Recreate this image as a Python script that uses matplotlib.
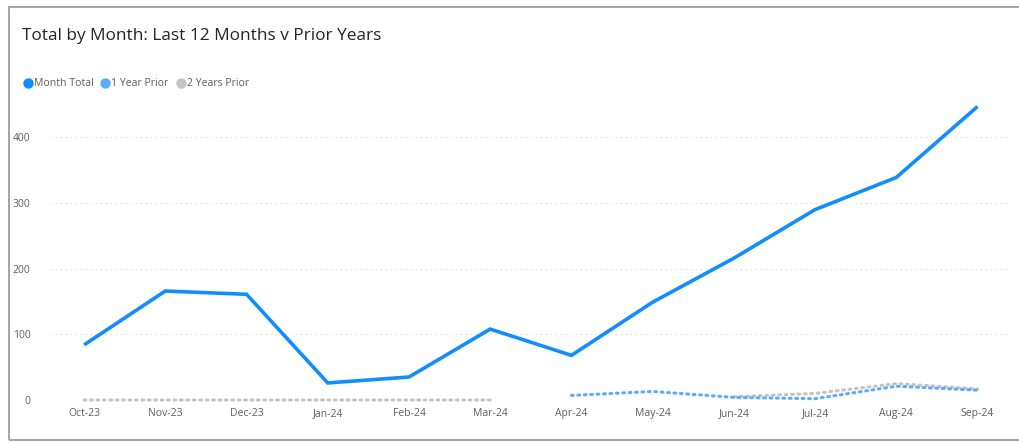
import matplotlib
matplotlib.use("Agg")
import matplotlib.pyplot as plt
from matplotlib.patches import Rectangle
from matplotlib.lines import Line2D
import numpy as np

plt.rcParams['font.family'] = ['Open Sans', 'DejaVu Sans']

months = ["Oct-23", "Nov-23", "Dec-23", "Jan-24", "Feb-24", "Mar-24",
          "Apr-24", "May-24", "Jun-24", "Jul-24", "Aug-24", "Sep-24"]
month_total = [84, 166, 161, 26, 35, 108, 68, 149, 216, 290, 339, 447]
one_year_prior = [np.nan, np.nan, np.nan, np.nan, np.nan, np.nan, 7, 13, 4, 2, 21, 15]
two_years_prior = [0, 0, 0, 0, 0, 0, np.nan, np.nan, 5, 10, 25, 17]
yticks = [0, 100, 200, 300, 400]

c_total = "#118DFF"
c_1y = "#5AADF8"
c_2y = "#C4C4C4"

fig = plt.figure(figsize=(10.2, 4.43), dpi=100)
ax = fig.add_axes([50/1020, 1-400/443, 960/1020, 302/443])

x = np.arange(len(months))
ax.plot(x, two_years_prior, color=c_2y, lw=2.2, linestyle=(0, (0.6, 1.5)),
        dash_capstyle='round', solid_capstyle='round', zorder=2, clip_on=False)
ax.plot(x, one_year_prior, color=c_1y, lw=2.2, linestyle=(0, (0.6, 1.5)),
        dash_capstyle='round', solid_capstyle='round', zorder=3, clip_on=False)
ax.plot(x, month_total, color=c_total, lw=2.6, solid_joinstyle='miter',
        solid_capstyle='butt', zorder=4, clip_on=False)

ax.set_xlim(-0.42, 11.4)
ax.set_ylim(0, 460)
ax.set_xticks(x)
ax.set_xticklabels(months)
ax.set_yticks(yticks)
ax.set_yticklabels([str(v) for v in yticks])
ax.tick_params(axis='both', length=0, labelsize=7.5, colors="#605E5C")
ax.tick_params(axis='x', pad=6)
ax.tick_params(axis='y', pad=14)
for s in ax.spines.values():
    s.set_visible(False)
ax.grid(axis='y', color="#E1E1E1", linestyle=(0, (1.5, 3)), lw=0.8)
ax.set_axisbelow(True)
ax.patch.set_alpha(0)

# title
fig.text(22/1020, 1-36/443, "Total by Month: Last 12 Months v Prior Years",
         fontsize=12.4, color="#252423", va='center', ha='left')

# legend
ly = 1-83/443
items = [("Month Total", c_total, 28), ("1 Year Prior", c_1y, 105), ("2 Years Prior", c_2y, 181)]
for label, col, px in items:
    fig.add_artist(Line2D([px/1020], [ly], marker='o', markersize=7.5,
                          color=col, markeredgewidth=0, transform=fig.transFigure))
    fig.text((px+6)/1020, ly, label, fontsize=7.6, color="#605E5C",
             va='center', ha='left')

# border
fig.add_artist(Rectangle((9/1020, 1-440/443), 1.2, 433/443, transform=fig.transFigure,
                         fill=False, edgecolor="#A6A6A6", lw=1.5))

fig.savefig("out.png", dpi=100)
